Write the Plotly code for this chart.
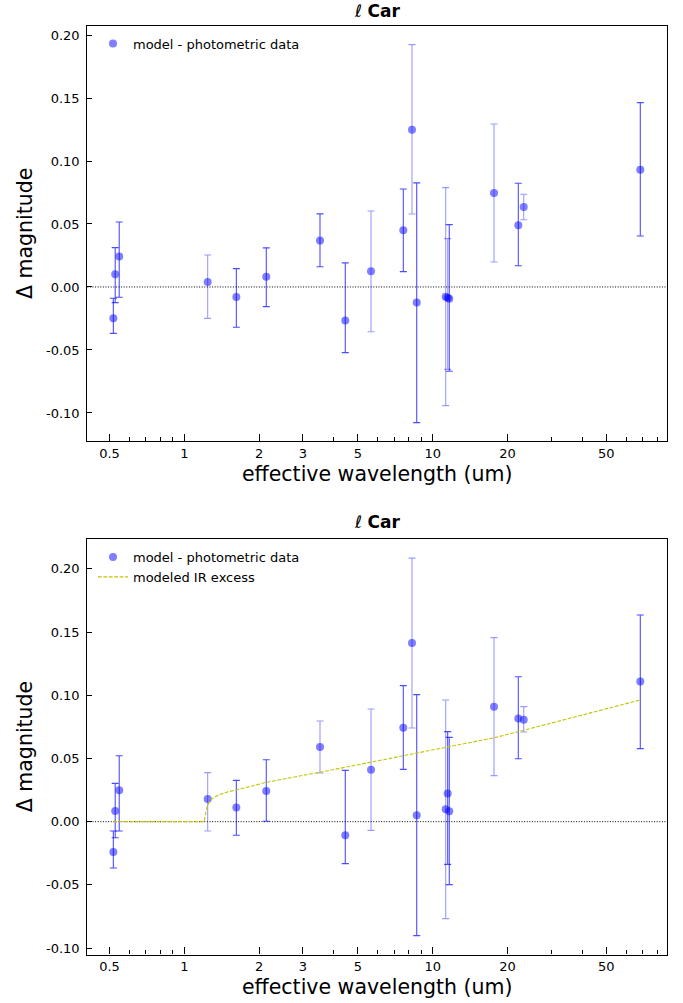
import plotly.graph_objects as go

# ---------------- data ----------------
wavelength = [0.518, 0.527, 0.547, 1.242, 1.620, 2.138, 3.518, 4.447, 5.645, 7.614,
              8.253, 8.623, 11.28, 11.49, 11.66, 17.65, 22.11, 23.25, 68.5]

dmag_top = [-0.0249, 0.0101, 0.0241, 0.0040, -0.0079, 0.0082, 0.0368, -0.0267, 0.0124, 0.0450,
            0.1249, -0.0124, -0.0077, -0.0085, -0.0093, 0.0746, 0.0490, 0.0635, 0.0931]
err_up_top = [0.0159, 0.0211, 0.0275, 0.0214, 0.0225, 0.0228, 0.0212, 0.0458, 0.0479, 0.0328,
              0.0675, 0.0950, 0.0866, 0.0469, 0.0588, 0.0548, 0.0333, 0.0101, 0.0532]
err_dn_top = [0.0119, 0.0225, 0.0323, 0.0289, 0.0241, 0.0238, 0.0207, 0.0254, 0.0479, 0.0328,
              0.0670, 0.0953, 0.0865, 0.0569, 0.0576, 0.0548, 0.0321, 0.0101, 0.0526]

dmag_bot = [-0.0240, 0.0084, 0.0248, 0.0179, 0.0113, 0.0243, 0.0591, -0.0108, 0.0411, 0.0744,
            0.1413, 0.0050, 0.0098, 0.0222, 0.0082, 0.0910, 0.0817, 0.0807, 0.1108]
err_up_bot = [0.0166, 0.0219, 0.0274, 0.0209, 0.0214, 0.0247, 0.0205, 0.0514, 0.0480, 0.0332,
              0.0672, 0.0955, 0.0865, 0.0490, 0.0585, 0.0546, 0.0330, 0.0103, 0.0527]
err_dn_bot = [0.0127, 0.0211, 0.0322, 0.0253, 0.0221, 0.0240, 0.0206, 0.0224, 0.0480, 0.0330,
              0.0672, 0.0952, 0.0865, 0.0560, 0.0580, 0.0546, 0.0319, 0.0098, 0.0530]

ir_wl = [0.518, 1.20, 1.215, 1.235, 1.26, 1.30, 1.37, 1.50, 1.625, 2.13, 3.52, 5.10,
         8.67, 11.36, 17.8, 22.4, 68.5]
ir_excess = [0.0, 0.0, 0.005, 0.0115, 0.0158, 0.0185, 0.0211, 0.0236, 0.0251, 0.0311, 0.0391,
             0.0454, 0.0546, 0.0588, 0.0665, 0.0715, 0.0963]

major_ticks = [0.5, 1, 2, 3, 5, 10, 20, 50]
major_labels = ["0.5", "1", "2", "3", "5", "10", "20", "50"]
minor_ticks = [0.6, 0.7, 0.8, 0.9, 4, 6, 7, 8, 9, 30, 40, 60, 70, 80]
y_ticks_top = [-0.10, -0.05, 0.0, 0.05, 0.10, 0.15, 0.20]
y_ticks_bot = [-0.10, -0.05, 0.0, 0.05, 0.10, 0.15, 0.20]

# style: error-bar opacity per point (dark / light)
bar_alpha_top = [0.7, 0.7, 0.7, 0.4, 0.7, 0.7, 0.7, 0.7, 0.4, 0.7, 0.4, 0.7, 0.4, 0.4, 0.7, 0.4, 0.7, 0.4, 0.7]
bar_alpha_bot = [0.7, 0.7, 0.7, 0.4, 0.7, 0.7, 0.4, 0.7, 0.4, 0.7, 0.4, 0.7, 0.4, 0.7, 0.7, 0.4, 0.7, 0.4, 0.7]

W, H = 683, 1003
FONT = "DejaVu Sans"
MARK = "rgba(0,0,255,0.5)"


def py(v):  # pixel from top -> paper
    return 1 - v / H


def px(v):
    return v / W


fig = go.Figure()


def add_panel(vals, eup, edn, alphas, xa, ya, legend):
    for i in range(len(wavelength)):
        fig.add_trace(go.Scatter(
            x=[wavelength[i]], y=[vals[i]], mode="markers",
            marker=dict(size=8, color="rgba(0,0,0,0)"),
            error_y=dict(type="data", symmetric=False, array=[eup[i]], arrayminus=[edn[i]],
                         color=f"rgba(0,0,255,{alphas[i]})", thickness=1.1, width=3.5),
            xaxis=xa, yaxis=ya, showlegend=False, hoverinfo="skip"))
    fig.add_trace(go.Scatter(
        x=wavelength, y=vals, mode="markers", name="model - photometric data",
        marker=dict(size=8, color=MARK, line=dict(width=0)),
        xaxis=xa, yaxis=ya, legend=legend, showlegend=True))


add_panel(dmag_top, err_up_top, err_dn_top, bar_alpha_top, "x", "y", "legend")
add_panel(dmag_bot, err_up_bot, err_dn_bot, bar_alpha_bot, "x2", "y2", "legend2")

fig.add_trace(go.Scatter(
    x=ir_wl, y=ir_excess, mode="lines", name="modeled IR excess",
    line=dict(color="#c4c400", width=1.1, dash="3.8px,1.6px"),
    xaxis="x2", yaxis="y2", legend="legend2", showlegend=True))

xdom = [px(87.3), px(666.7)]
xrange_log = [-0.3905, 1.9420]

axis_common = dict(
    showgrid=False, zeroline=False, showline=True, mirror=True, automargin=False,
    linecolor="black", linewidth=1.2, ticks="inside", tickcolor="black",
    tickwidth=1, tickfont=dict(family=FONT, size=13, color="black"),
)

xaxis_common = dict(
    axis_common, type="log", range=xrange_log, domain=xdom,
    tickmode="array", tickvals=major_ticks, ticktext=major_labels, ticklen=7,
    minor=dict(tickmode="array", tickvals=minor_ticks, ticks="inside", ticklen=4.5,
               tickcolor="black", tickwidth=1, showgrid=False),
    ticklabelstandoff=0,
)

fig.update_layout(
    width=W, height=H, margin=dict(l=0, r=0, t=0, b=0, autoexpand=False),
    paper_bgcolor="white", plot_bgcolor="white",
    font=dict(family=FONT, color="black"),
    xaxis=dict(xaxis_common, anchor="y"),
    xaxis2=dict(xaxis_common, anchor="y2"),
    yaxis=dict(axis_common, domain=[py(441.3), py(25.7)], range=[-0.1225, 0.2074],
               tickmode="array", tickvals=y_ticks_top,
               ticktext=[f"{v:.2f}" for v in y_ticks_top], ticklen=5, anchor="x",
               ticklabelstandoff=4),
    yaxis2=dict(axis_common, domain=[py(954.5), py(538.8)], range=[-0.1051, 0.2238],
                tickmode="array", tickvals=y_ticks_bot,
                ticktext=[f"{v:.2f}" for v in y_ticks_bot], ticklen=5, anchor="x2",
                ticklabelstandoff=4),
    legend=dict(x=px(93), y=py(28.5), xanchor="left", yanchor="top",
                bgcolor="rgba(0,0,0,0)", borderwidth=0,
                font=dict(family=FONT, size=13, color="black")),
    legend2=dict(x=px(93), y=py(542), xanchor="left", yanchor="top",
                 bgcolor="rgba(0,0,0,0)", borderwidth=0, tracegroupgap=0,
                 font=dict(family=FONT, size=13, color="black")),
)

# zero dotted lines
for xr, yr in (("x domain", "y"), ("x2 domain", "y2")):
    fig.add_shape(type="line", xref=xr, yref=yr, x0=0, x1=1, y0=0, y1=0,
                  line=dict(color="black", width=1, dash="1px,1.6px"), layer="below")

title_txt = "<i>ℓ</i> <b>Car</b>"
for ycen in (11.4, 522.3):
    fig.add_annotation(text=title_txt, xref="paper", yref="paper",
                       x=(xdom[0] + xdom[1]) / 2, y=py(ycen), xanchor="center", yanchor="middle",
                       showarrow=False, font=dict(family=FONT, size=17, color="black"))

for ycen in (474.0, 987.2):
    fig.add_annotation(text="effective wavelength (um)", xref="paper", yref="paper",
                       x=(xdom[0] + xdom[1]) / 2, y=py(ycen), xanchor="center", yanchor="middle",
                       showarrow=False, font=dict(family=FONT, size=20.5, color="black"))

for ycen in (233.5, 746.6):
    fig.add_annotation(text="Δ magnitude", xref="paper", yref="paper", textangle=-90,
                       x=px(24.6), y=py(ycen), xanchor="center", yanchor="middle",
                       showarrow=False, font=dict(family=FONT, size=20.5, color="black"))

fig.write_html("out.html", config={"displayModeBar": False},
               post_script="document.body.style.margin='0';document.body.style.padding='0';")
